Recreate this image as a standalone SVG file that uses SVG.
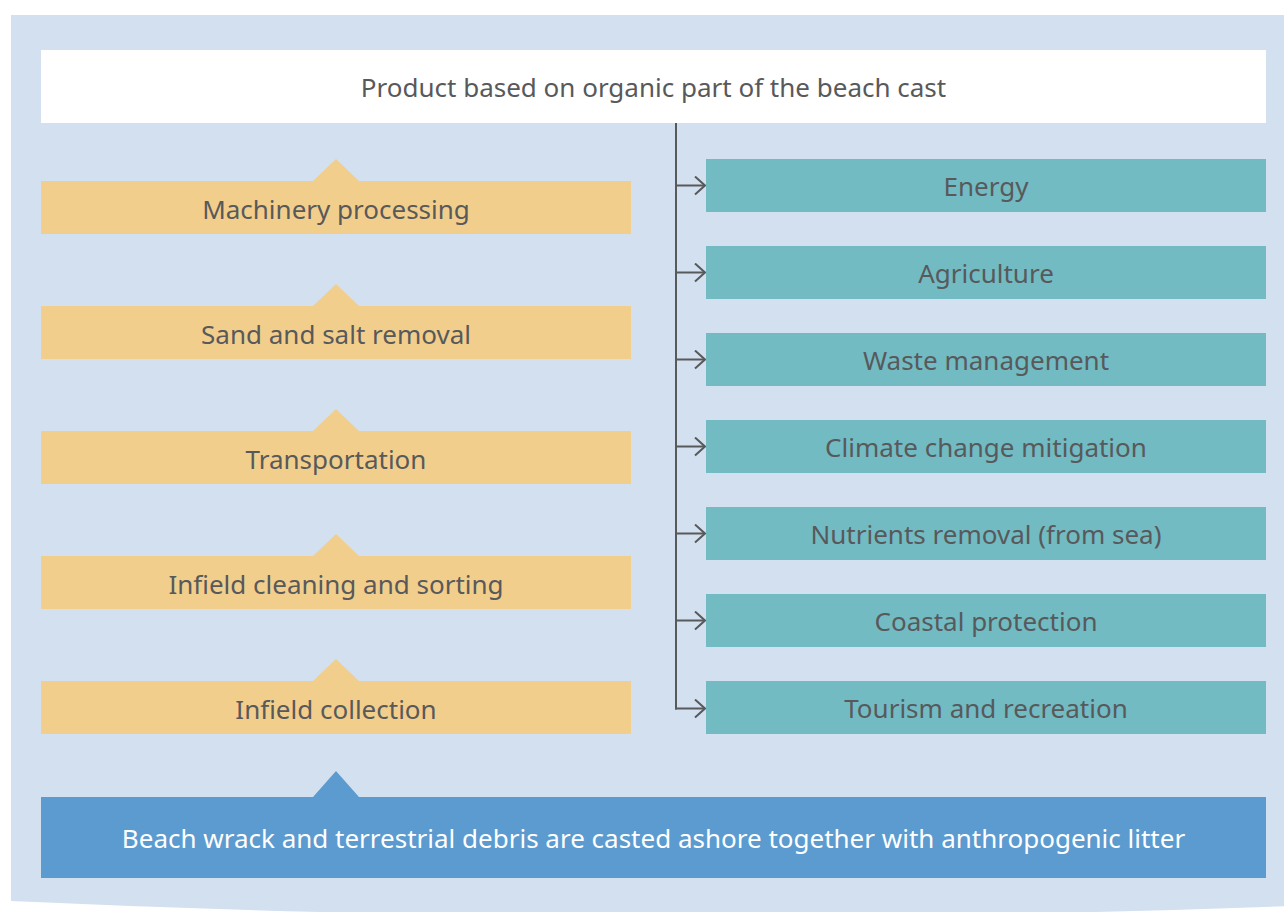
<svg xmlns="http://www.w3.org/2000/svg" width="1284" height="912" viewBox="0 0 1284 912">
  <defs>
    <style>
      .lbl { font-family: "Noto Sans", "DejaVu Sans", sans-serif; font-size: 26px; fill: #58595b; text-anchor: middle; dominant-baseline: central; }
      .lbl-w { fill: #ffffff; }
      .step { fill: #f2ce8c; }
      .use { fill: #72bbc3; }
      .conn { stroke: #58595b; stroke-width: 2; fill: none; }
    </style>
    <marker id="chev" viewBox="0 0 12 20" refX="11" refY="10" markerWidth="12" markerHeight="20" markerUnits="userSpaceOnUse" orient="auto">
      <path d="M1,1 L11,10 L1,19" fill="none" stroke="#58595b" stroke-width="2"/>
    </marker>
  </defs>

  <rect width="1284" height="912" fill="#ffffff"/>
  <!-- background panel with slightly curved bottom -->
  <path d="M11,15 H1290 V906 Q640,930 11,901 Z" fill="#d3e0f0"/>

  <g id="header">
    <rect x="41" y="50" width="1225" height="73" fill="#ffffff"/>
    <text class="lbl" x="653.5" y="87">Product based on organic part of the beach cast</text>
  </g>

  <g id="step-machinery">
    <path class="step" d="M41,181 H313 L336,159 L359,181 H631 V234 H41 Z"/>
    <text class="lbl" x="336" y="209">Machinery processing</text>
  </g>
  <g id="step-sand">
    <path class="step" d="M41,306 H313 L336,284 L359,306 H631 V359 H41 Z"/>
    <text class="lbl" x="336" y="334">Sand and salt removal</text>
  </g>
  <g id="step-transport">
    <path class="step" d="M41,431 H313 L336,409 L359,431 H631 V484 H41 Z"/>
    <text class="lbl" x="336" y="459">Transportation</text>
  </g>
  <g id="step-cleaning">
    <path class="step" d="M41,556 H313 L336,534 L359,556 H631 V609 H41 Z"/>
    <text class="lbl" x="336" y="584">Infield cleaning and sorting</text>
  </g>
  <g id="step-collection">
    <path class="step" d="M41,681 H313 L336,659 L359,681 H631 V734 H41 Z"/>
    <text class="lbl" x="336" y="709">Infield collection</text>
  </g>

  <g id="source">
    <path d="M41,797 H313 L336,771 L359,797 H1266 V878 H41 Z" fill="#5b9bcf"/>
    <text class="lbl lbl-w" x="653.5" y="838">Beach wrack and terrestrial debris are casted ashore together with anthropogenic litter</text>
  </g>

  <g id="use-energy">
    <rect class="use" x="706" y="159" width="560" height="53"/>
    <text class="lbl" x="986" y="186">Energy</text>
  </g>
  <g id="use-agriculture">
    <rect class="use" x="706" y="246" width="560" height="53"/>
    <text class="lbl" x="986" y="273">Agriculture</text>
  </g>
  <g id="use-waste">
    <rect class="use" x="706" y="333" width="560" height="53"/>
    <text class="lbl" x="986" y="360">Waste management</text>
  </g>
  <g id="use-climate">
    <rect class="use" x="706" y="420" width="560" height="53"/>
    <text class="lbl" x="986" y="447">Climate change mitigation</text>
  </g>
  <g id="use-nutrients">
    <rect class="use" x="706" y="507" width="560" height="53"/>
    <text class="lbl" x="986" y="534">Nutrients removal (from sea)</text>
  </g>
  <g id="use-coastal">
    <rect class="use" x="706" y="594" width="560" height="53"/>
    <text class="lbl" x="986" y="621">Coastal protection</text>
  </g>
  <g id="use-tourism">
    <rect class="use" x="706" y="681" width="560" height="53"/>
    <text class="lbl" x="986" y="708">Tourism and recreation</text>
  </g>

  <g id="connectors">
    <path class="conn" d="M676,123 V709.5"/>
    <path class="conn" d="M676,185.5 H705" marker-end="url(#chev)"/>
    <path class="conn" d="M676,272.5 H705" marker-end="url(#chev)"/>
    <path class="conn" d="M676,359.5 H705" marker-end="url(#chev)"/>
    <path class="conn" d="M676,446.5 H705" marker-end="url(#chev)"/>
    <path class="conn" d="M676,533.5 H705" marker-end="url(#chev)"/>
    <path class="conn" d="M676,620.5 H705" marker-end="url(#chev)"/>
    <path class="conn" d="M675,708.5 H705" marker-end="url(#chev)"/>
  </g>
</svg>
